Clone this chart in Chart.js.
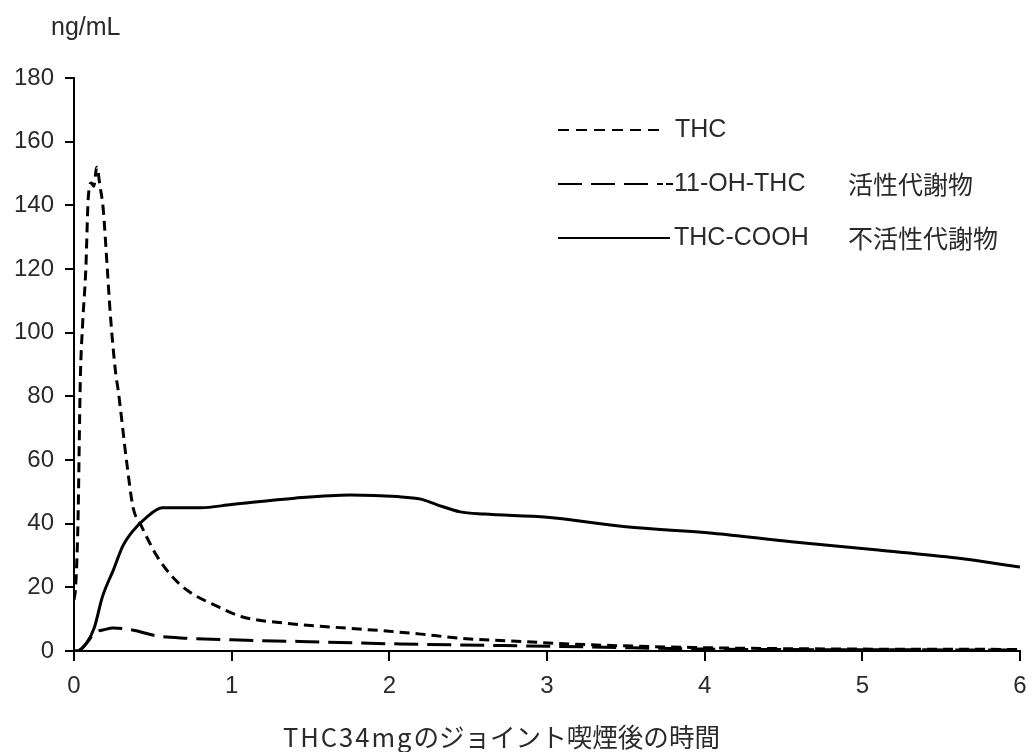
<!DOCTYPE html>
<html>
<head>
<meta charset="utf-8">
<script src="https://cdn.jsdelivr.net/npm/chart.js@4.4.0/dist/chart.umd.min.js"></script>
<style>
  html, body { margin: 0; padding: 0; background: #fff; }
  #wrap { width: 1032px; height: 752px; }
</style>
</head>
<body>
<div id="wrap"><canvas id="thcChart" width="1032" height="752"></canvas></div>
<script>
// 시간(h) / 농도(ng/mL) - 그림에서 읽은 값
var thcTime  = [0, 0.01, 0.025, 0.04, 0.055, 0.075, 0.09, 0.11, 0.125, 0.145, 0.165, 0.185, 0.21, 0.23, 0.265, 0.28, 0.335, 0.375, 0.42, 0.53, 0.63, 0.72, 0.91, 1.07, 1.33, 1.64, 2.0, 2.2, 2.45, 2.75, 3.25, 4.05, 5.0, 6.0];
var thcValue = [16, 20, 40, 85, 103, 120, 142, 147, 146, 152, 146, 139, 121, 106, 87, 82, 59, 45, 40, 29.5, 23, 19, 14, 10.7, 8.8, 7.5, 6.2, 5.3, 4, 3.2, 2, 1, 0.6, 0.5];

var ohTime  = [0, 0.02, 0.08, 0.13, 0.2, 0.25, 0.37, 0.53, 0.72, 1.0, 1.43, 2.07, 2.6, 3.25, 4.0, 5.0, 6.0];
var ohValue = [0, 0, 2.5, 5.6, 6.8, 7.2, 6.6, 4.7, 4, 3.5, 3, 2.2, 1.8, 1.3, 0.6, 0.4, 0.3];

var coohTime  = [0, 0.02, 0.08, 0.13, 0.18, 0.25, 0.31, 0.37, 0.46, 0.56, 0.8, 1.0, 1.4, 1.75, 2.05, 2.2, 2.3, 2.45, 2.6, 3.0, 3.5, 4.05, 4.55, 5.1, 5.6, 6.0];
var coohValue = [0, 0, 2.5, 7.5, 17, 25.5, 33, 37.5, 42, 45, 45, 46, 48, 49, 48.5, 47.7, 46, 43.7, 43, 42, 39, 37, 34.3, 31.7, 29.2, 26.4];

var xTicks = [0, 1, 2, 3, 4, 5, 6];
var yTicks = [0, 20, 40, 60, 80, 100, 120, 140, 160, 180];

var seriesNames = ["THC", "11-OH-THC", "THC-COOH"];
var seriesNotes = ["", "活性代謝物", "不活性代謝物"];
var seriesDash  = [[10, 6], [24, 9], []];

var yUnit = "ng/mL";
var xTitle1 = "THC34mg";
var xTitle2 = "のジョイント喫煙後の時間";

function toPoints(t, v){
	var pts = new Array();
	for(var i=0; i<t.length; i++){
		pts.push({x: t[i], y: v[i]});
	}
	return pts;
}

var textColor = '#2a2a2a';
var latinFont = '"Liberation Sans", Arial, sans-serif';
var cjkFont = '"Noto Sans CJK JP", sans-serif';

// 범례, 단위, x축 제목 그리기
var extraText = {
	id: 'extraText',
	afterDraw: function(chart){
		var ctx = chart.ctx;
		ctx.save();
		ctx.fillStyle = textColor;
		ctx.textBaseline = 'middle';

		ctx.font = '25px ' + latinFont;
		ctx.textAlign = 'left';
		ctx.fillText(yUnit, 51, 28);

		// legend
		var rowY = [130, 184, 238];
		var lineEnd = [665, 673, 670];
		for(var i=0; i<seriesNames.length; i++){
			ctx.strokeStyle = '#000';
			ctx.lineWidth = 2;
			ctx.setLineDash(i==0 ? [11, 7] : (i==1 ? [24, 9, 24, 9, 24, 9, 6, 3] : []));
			ctx.beginPath();
			ctx.moveTo(558, rowY[i]);
			ctx.lineTo(lineEnd[i], rowY[i]);
			ctx.stroke();
			ctx.setLineDash([]);
			ctx.font = '25px ' + latinFont;
			ctx.fillText(seriesNames[i], i==0 ? 675 : 674, rowY[i]);
			if(seriesNotes[i]){
				ctx.font = '25px ' + cjkFont;
				ctx.fillText(seriesNotes[i], 848, rowY[i]);
			}
		}

		// x title (폭 맞춤)
		ctx.font = '26px ' + cjkFont;
		ctx.letterSpacing = '2px';
		var w1 = ctx.measureText(xTitle1).width;
		ctx.letterSpacing = '0px';
		var w2 = ctx.measureText(xTitle2).width;
		ctx.translate(283, 737);
		ctx.scale(437 / (w1 + w2), 1);
		ctx.letterSpacing = '2px';
		ctx.fillText(xTitle1, 0, 0);
		ctx.letterSpacing = '0px';
		ctx.fillText(xTitle2, w1, 0);
		ctx.restore();
	}
};

var ctx = document.getElementById('thcChart').getContext('2d');
new Chart(ctx, {
	type: 'line',
	data: {
		datasets: [
			{ label: seriesNames[0], data: toPoints(thcTime, thcValue), borderDash: seriesDash[0] },
			{ label: seriesNames[1], data: toPoints(ohTime, ohValue), borderDash: seriesDash[1] },
			{ label: seriesNames[2], data: toPoints(coohTime, coohValue), borderDash: seriesDash[2] }
		]
	},
	options: {
		responsive: false,
		animation: false,
		layout: { padding: { top: 78, right: 12, left: 0, bottom: 0 } },
		plugins: { legend: { display: false }, tooltip: { enabled: false } },
		elements: {
			point: { radius: 0 },
			line: { borderColor: '#000', borderWidth: 3, cubicInterpolationMode: 'monotone', fill: false }
		},
		scales: {
			x: {
				type: 'linear', min: 0, max: 6,
				afterBuildTicks: function(s){ s.ticks = xTicks.map(function(v){ return {value: v}; }); },
				afterFit: function(s){ s.height = 101; s.paddingLeft = 0; s.paddingRight = 0; },
				ticks: { color: textColor, padding: 11, font: { family: latinFont, size: 24 } },
				grid: { drawOnChartArea: false, tickLength: 10, color: '#000', lineWidth: 2 },
				border: { color: '#000', width: 2 }
			},
			y: {
				min: 0, max: 180,
				afterBuildTicks: function(s){ s.ticks = yTicks.map(function(v){ return {value: v}; }); },
				afterFit: function(s){ s.width = 74; s.paddingTop = 0; s.paddingBottom = 0; },
				ticks: { color: textColor, padding: 11, font: { family: latinFont, size: 24 } },
				grid: { drawOnChartArea: false, tickLength: 9, color: '#000', lineWidth: 2 },
				border: { color: '#000', width: 2 }
			}
		}
	},
	plugins: [extraText]
});
</script>
</body>
</html>
